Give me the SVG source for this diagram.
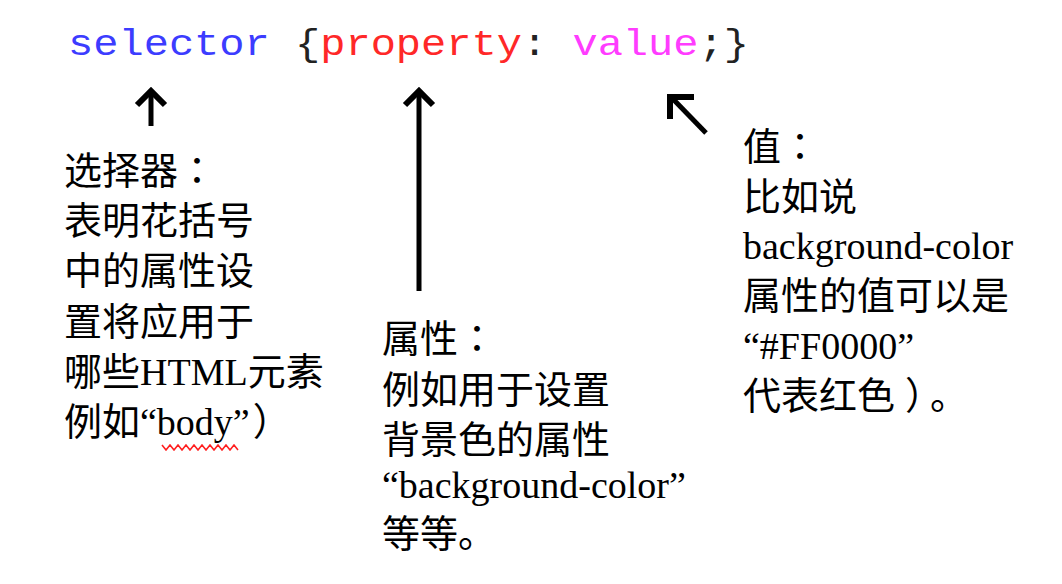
<svg xmlns="http://www.w3.org/2000/svg" width="1062" height="584" viewBox="0 0 1062 584">
<style>
.code{font-family:"Liberation Mono","Courier New",monospace;font-size:36px;}
.sel{fill:#3c3cff;}
.prop{fill:#ff2828;}
.val{fill:#ff3cff;}
.pun{fill:#222222;}
.lbl{font-family:"Liberation Serif","Noto Sans CJK SC",serif;font-size:38px;fill:#000000;}
.fw{font-family:"Noto Sans CJK TC","Noto Sans CJK SC",sans-serif;}
.arr{fill:none;stroke:#000000;stroke-width:5;}
.head{fill:none;stroke:#000000;stroke-width:6;stroke-linejoin:miter;stroke-linecap:butt;}
</style>
<rect x="0" y="0" width="1062" height="584" fill="#ffffff"/>
<g id="code">
<text class="code" x="68" y="55" textLength="681" lengthAdjust="spacingAndGlyphs" xml:space="preserve"><tspan class="sel">selector</tspan><tspan class="pun"> {</tspan><tspan class="prop">property</tspan><tspan class="pun">: </tspan><tspan class="val">value</tspan><tspan class="pun">;}</tspan></text>
</g>
<g id="connectors">
<line class="arr" x1="151" y1="92" x2="151" y2="126"/>
<polyline class="head" points="137,105 151,91 165,105"/>
<line class="arr" x1="419" y1="92" x2="419" y2="291"/>
<polyline class="head" points="405,105 419,91 433,105"/>
<line class="arr" x1="672" y1="98" x2="706" y2="133"/>
<polyline class="head" points="694,97 670,97 670,119"/>
</g>
<g id="selector-note">
<text class="lbl" x="64" y="184">选择器<tspan class="fw">：</tspan></text>
<text class="lbl" x="64" y="234">表明花括号</text>
<text class="lbl" x="64" y="284">中的属性设</text>
<text class="lbl" x="64" y="335">置将应用于</text>
<text class="lbl" x="64" y="385">哪些HTML元素</text>
<text class="lbl" x="64" y="435">例如“body”<tspan dx="3">）</tspan></text>
<polyline fill="none" stroke="#ff2020" stroke-width="1.6" points="162,445 166,450 170,445 174,450 178,445 182,450 186,445 190,450 194,445 198,450 202,445 206,450 210,445 214,450 218,445 222,450 226,445 230,450 234,445 238,450"/>
</g>
<g id="property-note">
<text class="lbl" x="382" y="352">属性<tspan class="fw">：</tspan></text>
<text class="lbl" x="382" y="403">例如用于设置</text>
<text class="lbl" x="382" y="453">背景色的属性</text>
<text class="lbl" x="382" y="498">“background-color”</text>
<text class="lbl" x="382" y="547">等等。</text>
</g>
<g id="value-note">
<text class="lbl" x="743" y="160">值<tspan class="fw">：</tspan></text>
<text class="lbl" x="743" y="210">比如说</text>
<text class="lbl" x="743" y="259">background-color</text>
<text class="lbl" x="743" y="309">属性的值可以是</text>
<text class="lbl" x="743" y="359">“#FF0000”</text>
<text class="lbl" x="743" y="409">代表红色<tspan dx="10">）</tspan><tspan dx="6">。</tspan></text>
</g>
</svg>
